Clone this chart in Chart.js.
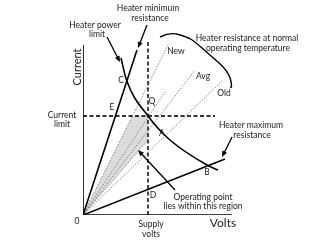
<!DOCTYPE html>
<html>
<head>
<meta charset="utf-8">
<script src="https://cdn.jsdelivr.net/npm/chart.js@4/dist/chart.umd.min.js"></script>
<style>
  html, body { margin: 0; padding: 0; background: #fff; }
  canvas { display: block; }
</style>
</head>
<body>
<canvas id="chart" width="320" height="240"></canvas>
<script>
// Values (arbitrary units: volts along x, current along y)
const axisX = [{ x: 0, y: 0 }, { x: 149, y: 0 }];
const axisY = [{ x: 0, y: 0 }, { x: 0, y: 170 }];
const supplyVolts = [{ x: 65, y: 0 }, { x: 65, y: 173 }];
const currentLimit = [{ x: 0, y: 99 }, { x: 132, y: 99 }];
const powerLimit = [
  { x: 38, y: 157 }, { x: 43.5, y: 135 }, { x: 65, y: 99 },
  { x: 87, y: 75 }, { x: 124, y: 50 }, { x: 135, y: 45 }
];
const minResistance = [{ x: 0, y: 0 }, { x: 54, y: 165 }];
const maxResistance = [{ x: 0, y: 0 }, { x: 142, y: 56 }];
const newHeater = [{ x: 0, y: 0 }, { x: 85, y: 170 }];
const qLine = [{ x: 0, y: 0 }, { x: 82, y: 123 }];
const avgHeater = [{ x: 0, y: 0 }, { x: 112, y: 145 }];
const oldHeater = [{ x: 0, y: 0 }, { x: 140, y: 135 }];
const edgeLine = [{ x: 0, y: 0 }, { x: 65, y: 75 }];
const region = [
  { x: 0, y: 0 }, { x: 49.5, y: 99 }, { x: 65, y: 99 }, { x: 65, y: 75 }, { x: 0, y: 0 }
];
// brace that groups the New / Avg / Old lines
const brace = [[77, 178], [87, 183], [104, 178], [111, 174], [127, 160], [144, 145], [150, 130], [147, 128]];

const FONT = "Lato, 'Open Sans', sans-serif";

// text labels: [text, x, y, size, rotate]
const labels = [
  ["Heater minimum", 65, 207, 8.5], ["resistance", 67, 197, 8.5],
  ["Heater power", 12, 190, 8.5], ["limit", 14, 181, 8.5],
  ["Current", -6, 148, 11, true],
  ["Current", -21, 100, 8.5], ["limit", -21, 91, 8.5],
  ["C", 38, 135, 8.5], ["E", 29, 108, 8.5], ["Q", 69, 114, 8.5],
  ["A", 79, 82, 8.5], ["B", 124, 43, 8.5], ["D", 70, 20, 8.5], ["0", -6, -6, 8.5],
  ["New", 93, 164, 8.5], ["Avg", 120, 139, 8.5], ["Old", 141, 122, 8.5],
  ["Heater resistance at normal", 164, 177, 8.5], ["operating temperature", 165, 167, 8.5],
  ["Heater maximum", 168, 90, 8.5], ["resistance", 169, 80, 8.5],
  ["Operating point", 120, 18, 8.5], ["lies within this region", 120, 9, 8.5],
  ["Supply", 68, -9, 8.5], ["volts", 68, -19, 8.5],
  ["Volts", 140, -8, 12]
];

// arrows: [fromX, fromY, toX, toY]
const arrows = [
  [24, 178, 37, 153],
  [64, 190, 55, 167],
  [149, 78, 139, 58],
  [92, 25, 55, 65]
];

const annotate = {
  id: "annotate",
  afterDatasetsDraw(chart) {
    const { ctx, scales: { x, y } } = chart;
    const px = v => x.getPixelForValue(v);
    const py = v => y.getPixelForValue(v);
    ctx.save();

    // brace: smooth path through the points
    ctx.strokeStyle = "#000";
    ctx.lineWidth = 1.4;
    ctx.beginPath();
    ctx.moveTo(px(brace[0][0]), py(brace[0][1]));
    for (let i = 1; i < brace.length - 2; i++) {
      const mx = (brace[i][0] + brace[i + 1][0]) / 2;
      const my = (brace[i][1] + brace[i + 1][1]) / 2;
      ctx.quadraticCurveTo(px(brace[i][0]), py(brace[i][1]), px(mx), py(my));
    }
    const n = brace.length;
    ctx.quadraticCurveTo(px(brace[n - 2][0]), py(brace[n - 2][1]) + 4, px(brace[n - 1][0]), py(brace[n - 1][1]));
    ctx.stroke();

    // arrows
    arrows.forEach(([x1, y1, x2, y2]) => {
      const a = px(x1), b = py(y1), c = px(x2), d = py(y2);
      const ang = Math.atan2(d - b, c - a);
      ctx.lineWidth = 1.3;
      ctx.beginPath();
      ctx.moveTo(a, b);
      ctx.lineTo(c - 4 * Math.cos(ang), d - 4 * Math.sin(ang));
      ctx.stroke();
      ctx.beginPath();
      ctx.moveTo(c, d);
      ctx.lineTo(c - 6 * Math.cos(ang) + 2.6 * Math.sin(ang), d - 6 * Math.sin(ang) - 2.6 * Math.cos(ang));
      ctx.lineTo(c - 6 * Math.cos(ang) - 2.6 * Math.sin(ang), d - 6 * Math.sin(ang) + 2.6 * Math.cos(ang));
      ctx.closePath();
      ctx.fillStyle = "#000";
      ctx.fill();
    });

    // text
    ctx.fillStyle = "#222";
    ctx.textAlign = "center";
    ctx.textBaseline = "middle";
    labels.forEach(([t, lx, ly, size, rot]) => {
      ctx.font = size + "px " + FONT;
      if (rot) {
        ctx.save();
        ctx.translate(px(lx), py(ly));
        ctx.rotate(-Math.PI / 2);
        ctx.fillText(t, 0, 0);
        ctx.restore();
      } else {
        ctx.fillText(t, px(lx), py(ly));
      }
    });
    ctx.restore();
  }
};

const solid = (data) => ({ data, borderColor: "#000", borderWidth: 1.6, pointRadius: 0, fill: false });
const dashed = (data) => ({ data, borderColor: "#333", borderWidth: 1.8, borderDash: [4, 2.5], pointRadius: 0, fill: false });
const dotted = (data) => ({ data, borderColor: "#777", borderWidth: 0.9, borderDash: [1.5, 1.5], pointRadius: 0, fill: false });

new Chart(document.getElementById("chart"), {
  type: "line",
  data: {
    datasets: [
      solid(axisX), solid(axisY),
      { ...solid(powerLimit), cubicInterpolationMode: "monotone" },
      solid(minResistance), solid(maxResistance),
      dashed(supplyVolts), dashed(currentLimit),
      dotted(newHeater), dotted(qLine), dotted(avgHeater), dotted(oldHeater), dotted(edgeLine),
      { data: region, borderWidth: 0, pointRadius: 0, backgroundColor: "#dcdcdc", fill: "shape", order: 10 }
    ]
  },
  options: {
    responsive: false,
    animation: false,
    devicePixelRatio: 1,
    parsing: true,
    layout: { padding: { left: 83, right: 88, top: 40, bottom: 25 } },
    scales: {
      x: { type: "linear", min: 0, max: 149, display: false },
      y: { type: "linear", min: 0, max: 175, display: false }
    },
    plugins: { legend: { display: false }, tooltip: { enabled: false } },
    elements: { line: { tension: 0 } }
  },
  plugins: [annotate]
});
</script>
</body>
</html>
